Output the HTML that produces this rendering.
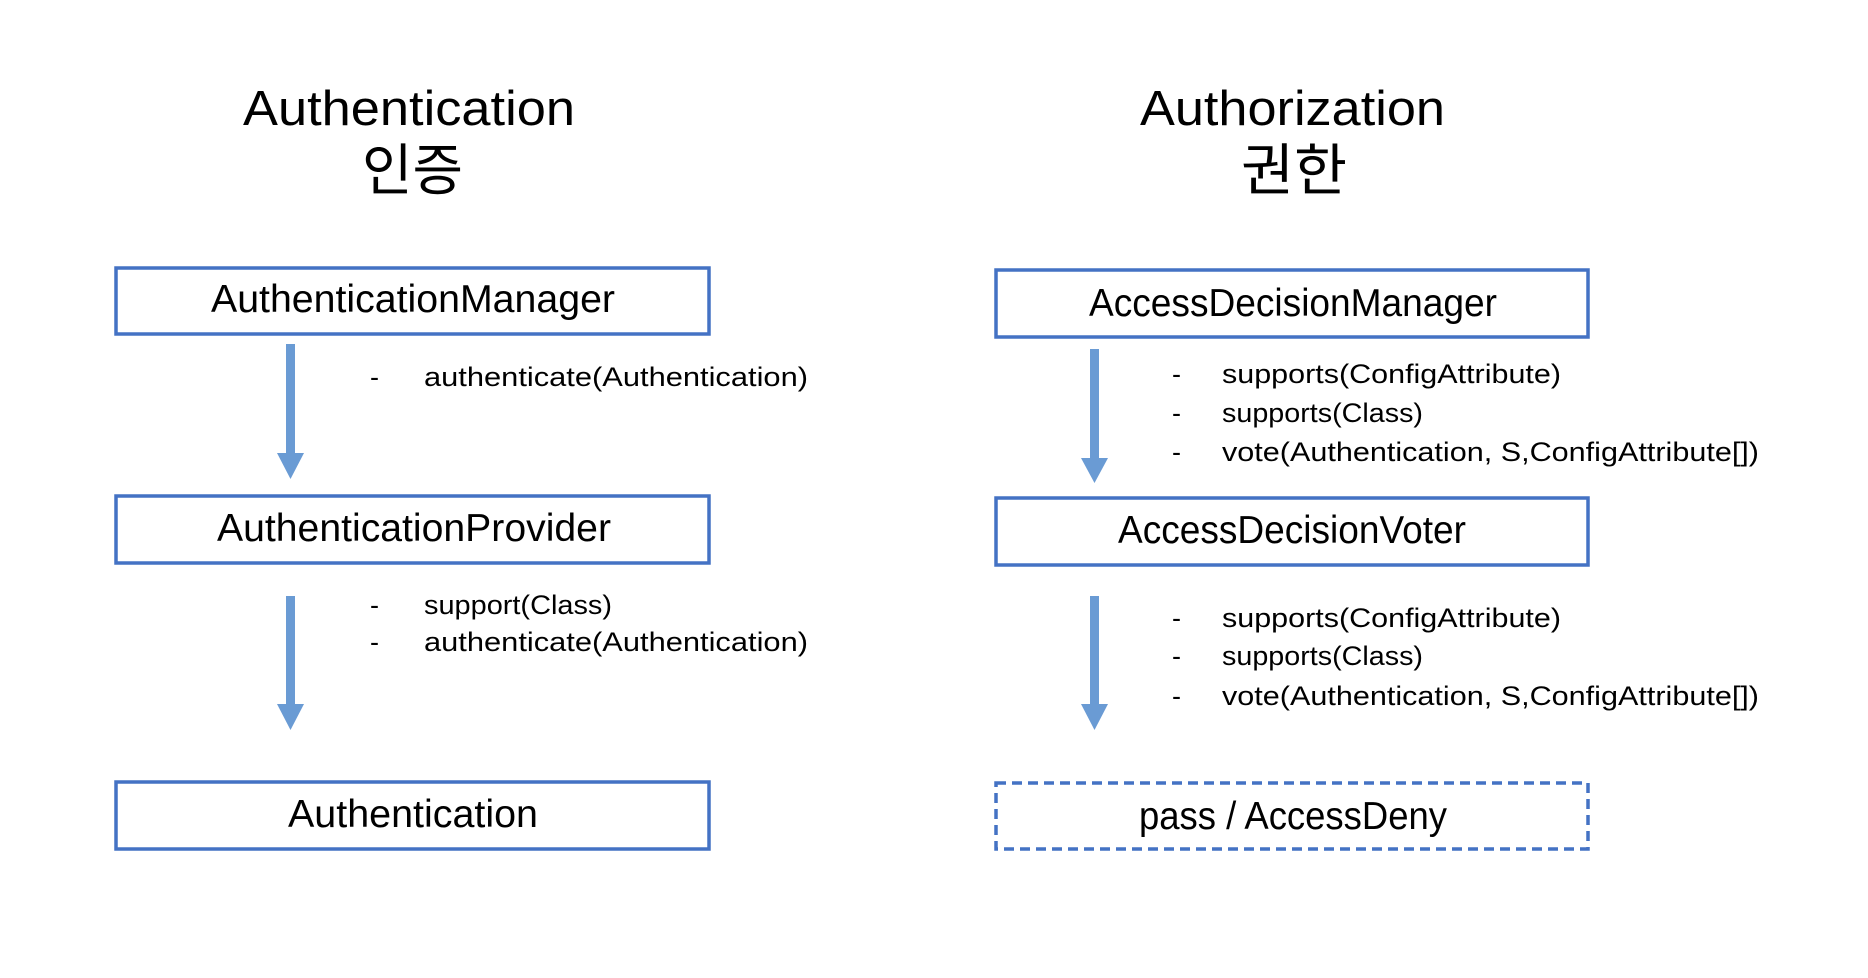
<!DOCTYPE html>
<html><head><meta charset="utf-8"><style>
html,body{margin:0;padding:0;background:#fff;}
svg{display:block;}
text{font-family:"Liberation Sans","Noto Sans CJK KR",sans-serif;fill:#000;}
.k{font-family:"Noto Sans CJK KR","NanumGothic",sans-serif;}
</style></head><body>
<svg width="1868" height="978" viewBox="0 0 1868 978" xmlns="http://www.w3.org/2000/svg">
<g fill="none" stroke="#4472C4" stroke-width="3.5">
<rect x="116" y="268" width="593" height="66"/>
<rect x="116" y="496" width="593" height="67"/>
<rect x="116" y="782" width="593" height="67"/>
<rect x="996" y="270" width="592" height="67"/>
<rect x="996" y="498" width="592" height="67"/>
<rect x="996" y="783" width="592" height="66" stroke-dasharray="10 6"/>
</g>
<g fill="#6A9BD4">
<rect x="286" y="344" width="9" height="110"/><polygon points="277,453 304,453 290.5,479"/>
<rect x="286" y="596" width="9" height="109"/><polygon points="277,704 304,704 290.5,730"/>
<rect x="1090" y="349" width="9" height="110"/><polygon points="1081,458 1108,458 1094.5,483"/>
<rect x="1090" y="596" width="9" height="109"/><polygon points="1081,704 1108,704 1094.5,730"/>
</g>
<text x="243" y="125" font-size="49" textLength="332" lengthAdjust="spacingAndGlyphs">Authentication</text>
<text class="k" x="362" y="190" font-size="56" textLength="101" lengthAdjust="spacingAndGlyphs">인증</text>
<text x="1140" y="125" font-size="49" textLength="305" lengthAdjust="spacingAndGlyphs">Authorization</text>
<text class="k" x="1241" y="190" font-size="56" textLength="106" lengthAdjust="spacingAndGlyphs">권한</text>

<g font-size="39">
<text x="211" y="312" textLength="404" lengthAdjust="spacingAndGlyphs">AuthenticationManager</text>
<text x="217" y="541" textLength="394" lengthAdjust="spacingAndGlyphs">AuthenticationProvider</text>
<text x="288" y="827" textLength="250" lengthAdjust="spacingAndGlyphs">Authentication</text>
<text x="1089" y="316" textLength="408" lengthAdjust="spacingAndGlyphs">AccessDecisionManager</text>
<text x="1118" y="543" textLength="348" lengthAdjust="spacingAndGlyphs">AccessDecisionVoter</text>
<text x="1139" y="829" textLength="308" lengthAdjust="spacingAndGlyphs">pass / AccessDeny</text>
</g>
<g font-size="27">
<text x="370" y="386">-</text><text x="424" y="386" textLength="384" lengthAdjust="spacingAndGlyphs">authenticate(Authentication)</text>
<text x="370" y="614">-</text><text x="424" y="614" textLength="188" lengthAdjust="spacingAndGlyphs">support(Class)</text>
<text x="370" y="651">-</text><text x="424" y="651" textLength="384" lengthAdjust="spacingAndGlyphs">authenticate(Authentication)</text>

<text x="1172" y="383">-</text><text x="1222" y="383" textLength="339" lengthAdjust="spacingAndGlyphs">supports(ConfigAttribute)</text>
<text x="1172" y="422">-</text><text x="1222" y="422" textLength="201" lengthAdjust="spacingAndGlyphs">supports(Class)</text>
<text x="1172" y="461">-</text><text x="1222" y="461" textLength="537" lengthAdjust="spacingAndGlyphs">vote(Authentication, S,ConfigAttribute[])</text>
<text x="1172" y="627">-</text><text x="1222" y="627" textLength="339" lengthAdjust="spacingAndGlyphs">supports(ConfigAttribute)</text>
<text x="1172" y="665">-</text><text x="1222" y="665" textLength="201" lengthAdjust="spacingAndGlyphs">supports(Class)</text>
<text x="1172" y="705">-</text><text x="1222" y="705" textLength="537" lengthAdjust="spacingAndGlyphs">vote(Authentication, S,ConfigAttribute[])</text>
</g>
</svg>
</body></html>
